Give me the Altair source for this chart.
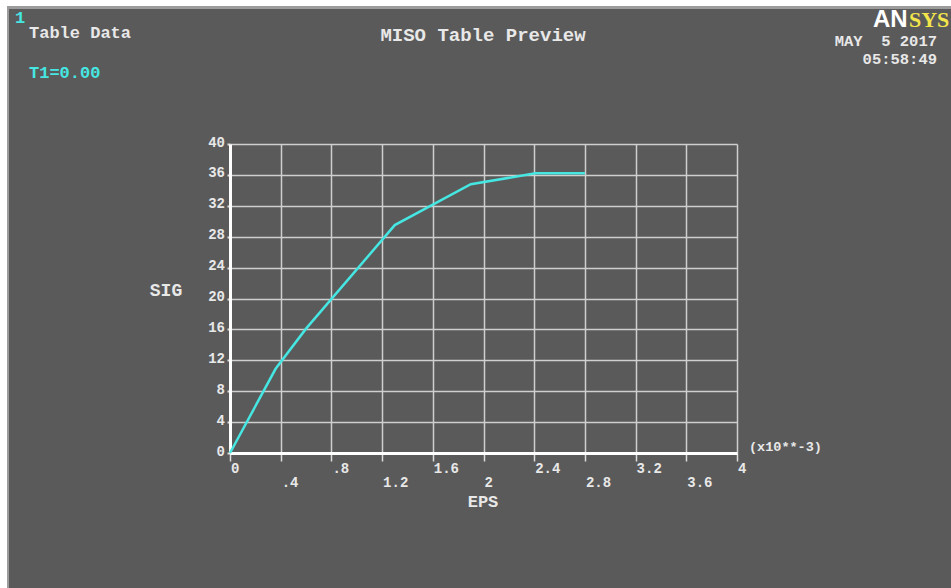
import altair as alt
import pandas as pd

# MISO stress-strain table (EPS in units of 1e-3)
eps = [0.0, 0.36, 0.60, 1.30, 1.90, 2.41, 2.80]
sig = [0.0, 10.9, 16.1, 29.5, 34.8, 36.2, 36.2]

x_ticks = [0.0, 0.4, 0.8, 1.2, 1.6, 2.0, 2.4, 2.8, 3.2, 3.6, 4.0]
x_tick_labels = ["0", ".4", ".8", "1.2", "1.6", "2", "2.4", "2.8", "3.2", "3.6", "4"]
y_ticks = [0, 4, 8, 12, 16, 20, 24, 28, 32, 36, 40]
y_tick_labels = ["0", "4", "8", "12", "16", "20", "24", "28", "32", "36", "40"]

BG = "#5a5a5a"
CYAN = "#46e6e2"
TXT = "#e8e8e8"
YELLOW = "#f2e64a"
MONO = "Liberation Mono"
X0, Y0 = 230, 144          # plot-area origin on the page
W, H = 507, 309            # plot-area size

curve = pd.DataFrame({"EPS": eps, "SIG": sig})
xt = pd.DataFrame({
    "v": x_ticks,
    "label": x_tick_labels,
    "row": [i % 2 for i in range(len(x_ticks))],
})
yt = pd.DataFrame({"v": y_ticks, "label": y_tick_labels})
one = pd.DataFrame({"t": [""]})

xscale = alt.Scale(domain=[0, 4], nice=False, zero=False)
yscale = alt.Scale(domain=[0, 40], nice=False, zero=False)

x_axis = alt.Axis(values=x_ticks, labels=False, title=None, grid=True,
                  gridColor="#cfcfcf", gridWidth=1.5, gridOpacity=1,
                  domainColor="#ffffff", domainWidth=3,
                  tickColor="#dcdcdc", tickSize=8, tickWidth=1.5)
y_axis = alt.Axis(values=y_ticks, labels=False, title=None, grid=True,
                  gridColor="#cfcfcf", gridWidth=1.5, gridOpacity=1,
                  domainColor="#ffffff", domainWidth=3,
                  tickColor="#dcdcdc", tickSize=3, tickWidth=2)

X = lambda f: alt.X(f, scale=xscale, axis=x_axis)
Y = lambda f: alt.Y(f, scale=yscale, axis=y_axis)

line = alt.Chart(curve).mark_line(color=CYAN, strokeWidth=2.5).encode(
    x=X("EPS:Q"), y=Y("SIG:Q"))

x_labels_top = alt.Chart(xt).transform_filter("datum.row == 0").mark_text(
    align="left", baseline="alphabetic", font=MONO, fontWeight="bold",
    fontSize=14, color=TXT, dx=1).encode(
    x=X("v:Q"), y=alt.value(473 - Y0), text="label:N")
x_labels_low = alt.Chart(xt).transform_filter("datum.row == 1").mark_text(
    align="left", baseline="alphabetic", font=MONO, fontWeight="bold",
    fontSize=14, color=TXT, dx=1).encode(
    x=X("v:Q"), y=alt.value(487 - Y0), text="label:N")
y_labels = alt.Chart(yt).mark_text(
    align="right", baseline="alphabetic", font=MONO, fontWeight="bold",
    fontSize=14, color=TXT, dy=2.5).encode(
    x=alt.value(225 - X0), y=Y("v:Q"), text="label:N")


def label(text, x, y, size, color=TXT, align="left", font=MONO):
    return alt.Chart(pd.DataFrame({"t": [text]})).mark_text(
        align=align, baseline="alphabetic", font=font, fontWeight="bold",
        fontSize=size, color=color).encode(
        text="t:N", x=alt.value(x - X0), y=alt.value(y - Y0))


def band(x1, y1, x2, y2, color):
    return alt.Chart(one).mark_rect(color=color).encode(
        x=alt.value(x1 - X0), x2=alt.value(x2 - X0),
        y=alt.value(y1 - Y0), y2=alt.value(y2 - Y0))


frame = [
    band(0, 0, 951, 6, "#ffffff"),
    band(0, 6, 951, 9, "#9c9c9c"),
    band(0, 0, 7, 588, "#ffffff"),
    band(7, 6, 9, 588, "#9c9c9c"),
]

texts = [
    label("1", 15, 23, 17, CYAN),
    label("Table Data", 29, 38, 17),
    label("T1=0.00", 29, 78, 17, CYAN),
    label("MISO Table Preview", 483, 41, 19, align="center"),
    label("MAY\u00a0\u00a05 2017", 937, 46, 15.5, align="right"),
    label("05:58:49", 937, 64, 15.5, align="right"),
    label("AN", 873, 27, 24, "#ffffff", font="Liberation Sans"),
    label("SYS", 909, 27, 22, YELLOW, font="Liberation Serif"),
    label("SIG", 166, 296, 18, align="center"),
    label("EPS", 483, 507, 17, align="center"),
    label("(x10**-3)", 749, 451, 13.5),
]

chart = alt.layer(line, x_labels_top, x_labels_low, y_labels, *frame, *texts).properties(
    width=W, height=H,
    autosize=alt.AutoSizeParams(type="none"),
    padding={"left": X0, "top": Y0, "right": 951 - X0 - W, "bottom": 588 - Y0 - H},
    background=BG,
).configure_view(stroke=None)

chart.save("out.html", embed_options={"renderer": "svg", "actions": False})
